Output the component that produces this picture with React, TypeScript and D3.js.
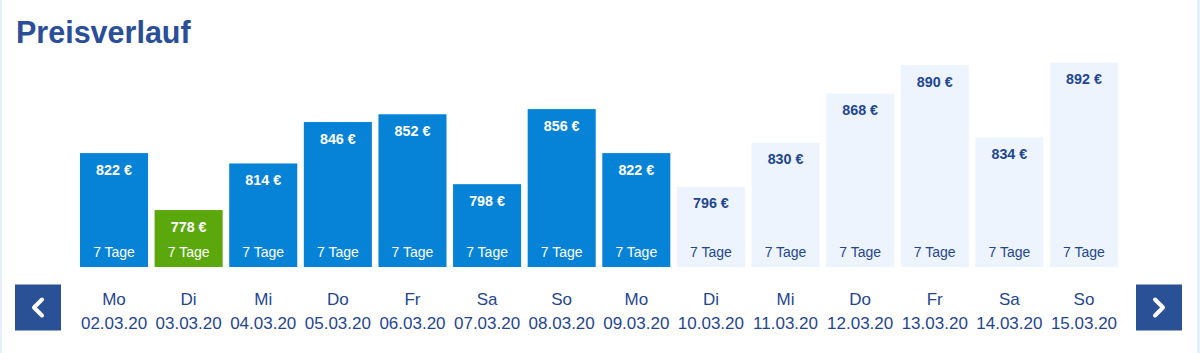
import React from "react";
import * as d3 from "d3";

const weekdays = ["Mo", "Di", "Mi", "Do", "Fr", "Sa", "So", "Mo", "Di", "Mi", "Do", "Fr", "Sa", "So"];
const dates = ["02.03.20", "03.03.20", "04.03.20", "05.03.20", "06.03.20", "07.03.20", "08.03.20", "09.03.20", "10.03.20", "11.03.20", "12.03.20", "13.03.20", "14.03.20", "15.03.20"];
const prices = [822, 778, 814, 846, 852, 798, 856, 822, 796, 830, 868, 890, 834, 892];
const kinds = ["past", "best", "past", "past", "past", "past", "past", "past", "future", "future", "future", "future", "future", "future"];
const durationLabel = "7 Tage";
const title = "Preisverlauf";

const W = 1200;
const H = 353;

export default function App() {
  const x = d3
    .scaleBand<number>()
    .domain(d3.range(prices.length))
    .range([80, 1118])
    .paddingInner(0.088)
    .paddingOuter(0);
  const y = d3.scaleLinear().domain([734, 892]).range([267, 62.5]);

  const fill = (k: string) => (k === "best" ? "#5ba80c" : k === "past" ? "#0683d7" : "#edf4fd");
  const priceColor = (k: string) => (k === "future" ? "#1f4690" : "#ffffff");
  const font = "'Liberation Sans', Arial, Helvetica, sans-serif";

  const chevron = (cx: number, cy: number, dir: number) => {
    const p = d3.path();
    p.moveTo(cx + 4 * dir, cy - 8);
    p.lineTo(cx - 4 * dir, cy);
    p.lineTo(cx + 4 * dir, cy + 8);
    return p.toString();
  };

  return (
    <svg
      width={W}
      height={H}
      style={{ position: "absolute", left: 0, top: 0, display: "block", background: "#ffffff" }}
      fontFamily={font}
    >
      <rect x={0} y={0} width={2} height={H} fill="#e6effb" />
      <rect x={1197} y={0} width={3} height={H} fill="#e6effb" />
      <text x={16} y={43} fontSize={30.5} fontWeight="bold" fill="#2a4e98">
        {title}
      </text>
      {prices.map((v, i) => {
        const bx = x(i)!;
        const bw = x.bandwidth();
        const top = y(v);
        const k = kinds[i];
        const cx = bx + bw / 2;
        return (
          <g key={i}>
            <rect x={bx} y={top} width={bw} height={y.range()[0] - top} fill={fill(k)} />
            <text x={cx} y={top + 21.5} textAnchor="middle" fontSize={14.3} fontWeight="bold" fill={priceColor(k)}>
              {v} €
            </text>
            <text x={cx} y={256.5} textAnchor="middle" fontSize={14} fill={priceColor(k)}>
              {durationLabel}
            </text>
            <text x={cx} y={305} textAnchor="middle" fontSize={17} fill="#1f4690">
              {weekdays[i]}
            </text>
            <text x={cx} y={329} textAnchor="middle" fontSize={17} fill="#1f4690">
              {dates[i]}
            </text>
          </g>
        );
      })}
      <rect x={15} y={284.5} width={46} height={46} fill="#2a5196" />
      <path d={chevron(38, 307.5, 1)} stroke="#ffffff" strokeWidth={4} fill="none" strokeLinecap="round" strokeLinejoin="round" />
      <rect x={1136} y={284.5} width={46} height={46} fill="#2a5196" />
      <path d={chevron(1159, 307.5, -1)} stroke="#ffffff" strokeWidth={4} fill="none" strokeLinecap="round" strokeLinejoin="round" />
    </svg>
  );
}
